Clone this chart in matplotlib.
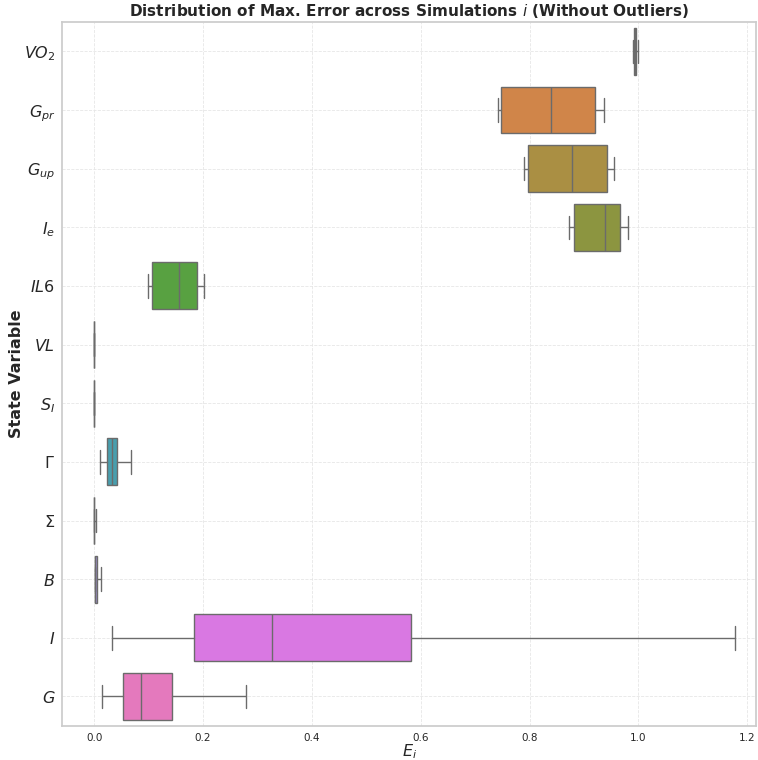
import numpy as np
import matplotlib
matplotlib.use('Agg')
import matplotlib.pyplot as plt
import seaborn as sns

# ============== data =====================================
labels = [r'$VO_2$', r'$G_{pr}$', r'$G_{up}$', r'$I_e$', r'$IL6$', r'$VL$',
          r'$S_I$', r'$\Gamma$', r'$\Sigma$', r'$B$', r'$I$', r'$G$']
whislo = [0.990, 0.742, 0.790, 0.873, 0.099, 0.0000, 0.0000, 0.010, 0.0000, 0.0005, 0.032, 0.015]
q1     = [0.991, 0.748, 0.797, 0.881, 0.106, 0.0000, 0.0000, 0.024, 0.0000, 0.0005, 0.184, 0.052]
med    = [0.993, 0.839, 0.878, 0.938, 0.155, 0.0001, 0.0001, 0.032, 0.0002, 0.0020, 0.326, 0.085]
q3     = [0.995, 0.921, 0.942, 0.967, 0.188, 0.0003, 0.0003, 0.042, 0.0004, 0.0055, 0.582, 0.143]
whishi = [1.000, 0.936, 0.956, 0.981, 0.202, 0.0003, 0.0004, 0.068, 0.0040, 0.0130, 1.178, 0.278]

# ============== plot ===============
sns.set_theme(style='whitegrid')
colors = sns.color_palette('husl', len(labels), desat=0.75)

fig, ax = plt.subplots(figsize=(7.58, 7.6), dpi=100)

stats = []
for i in range(len(labels)):
    stats.append(dict(whislo=whislo[i], q1=q1[i], med=med[i], q3=q3[i],
                      whishi=whishi[i], fliers=[]))

pos = np.arange(len(labels))
line_col = '#6b6b6b'
bp = ax.bxp(stats, positions=pos, vert=False, widths=0.8, patch_artist=True,
            showfliers=False, capwidths=0.4,
            boxprops=dict(edgecolor=line_col, linewidth=1.0),
            whiskerprops=dict(color=line_col, linewidth=1.0),
            capprops=dict(color=line_col, linewidth=1.0),
            medianprops=dict(color=line_col, linewidth=1.0))
for patch, c in zip(bp['boxes'], colors):
    patch.set_facecolor(c)

ax.set_yticks(pos)
ax.set_yticklabels(labels, fontsize=11.5)
ax.set_ylim(len(labels) - 0.5, -0.5)
ax.set_xlim(-0.059, 1.217)
ax.set_xticks([0.0, 0.2, 0.4, 0.6, 0.8, 1.0, 1.2])
ax.tick_params(axis='x', labelsize=7.5, length=0, pad=5)
ax.tick_params(axis='y', length=0, pad=5)

ax.grid(True, linestyle='--', linewidth=0.6, color='#e6e6e6')
for s in ax.spines.values():
    s.set_color('#cccccc')

ax.set_xlabel(r'$E_i$', fontsize=11.5, labelpad=0)
ax.set_ylabel('State Variable', fontsize=11.5, fontweight='bold')
ax.yaxis.set_label_coords(-0.055, 0.5)
ax.set_title(r'Distribution of Max. Error across Simulations $i$ (Without Outliers)',
             fontsize=11, fontweight='bold', pad=4)

fig.subplots_adjust(left=0.082, right=0.998, bottom=0.045, top=0.971)
fig.savefig('out.png', dpi=100)
